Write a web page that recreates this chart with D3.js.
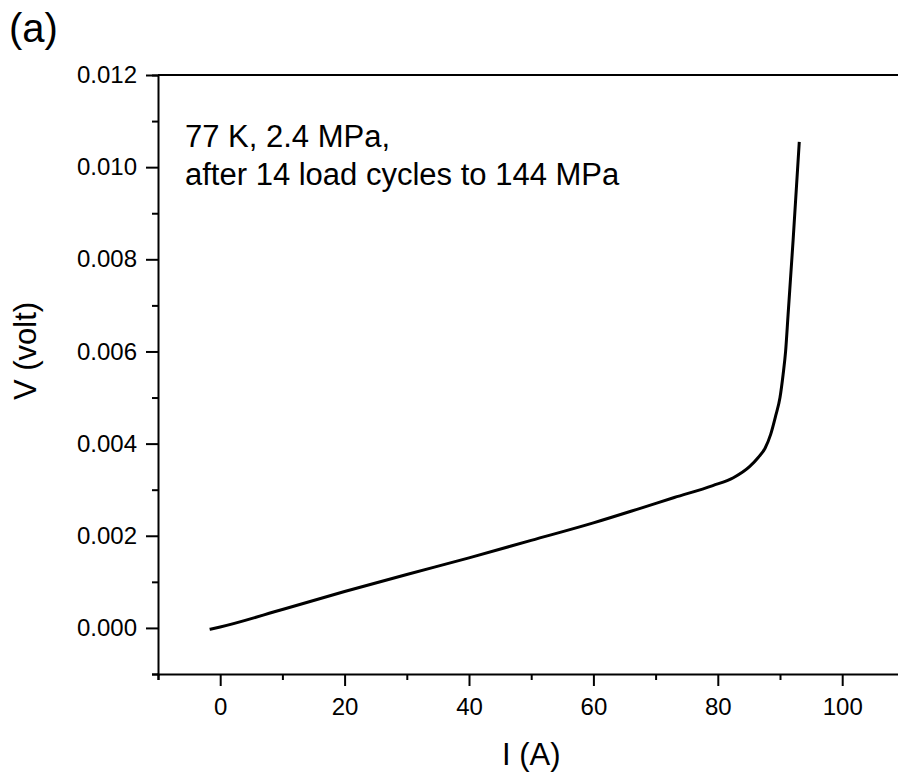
<!DOCTYPE html>
<html>
<head>
<meta charset="utf-8">
<script src="https://cdn.jsdelivr.net/npm/d3@7"></script>
<style>
	body { margin: 0; background: #fff; }
	svg { display: block; font-family: "Liberation Sans", Arial, sans-serif; }
</style>
</head>
<body>
<div id="graph"></div>
<script>
	var current = [-1.7, 0, 10, 20, 30, 40, 50, 60, 67.4, 73, 79.2, 82.5, 85.1, 86.5, 87.6, 88.5, 89.3, 90.0, 90.5, 90.9, 91.3, 92.1, 93.1];
	var voltage = [-0.00003, 0.00002, 0.0004, 0.00079, 0.00116, 0.00152, 0.0019, 0.00228, 0.00259, 0.00283, 0.00309, 0.00326, 0.0035, 0.0037, 0.0039, 0.0042, 0.0046, 0.005, 0.0055, 0.006, 0.0068, 0.0084, 0.01055];

	var xMajor = [0, 20, 40, 60, 80, 100],
		xMinor = [-10, 10, 30, 50, 70, 90, 110],
		yMajor = [0, 0.002, 0.004, 0.006, 0.008, 0.010, 0.012],
		yMinor = [-0.001, 0.001, 0.003, 0.005, 0.007, 0.009, 0.011];

	var noteLines = ['77 K, 2.4 MPa,', 'after 14 load cycles to 144 MPa'];

	(function () {
		'use strict';

		var width = 898, height = 777;
		var plotLeft = 158, plotRight = 904.4, plotTop = 75, plotBottom = 674;

		var svg = d3.select('#graph')
			.append('svg')
			.attr('width', width)
			.attr('height', height);

		var x = d3.scaleLinear().domain([-10, 110]).range([plotLeft, plotRight]);
		var y = d3.scaleLinear().domain([-0.001, 0.012]).range([plotBottom, plotTop]);

		function styleAxis(g) {
			g.selectAll('path').attr('stroke', '#000').attr('stroke-width', 2);
			g.selectAll('line').attr('stroke', '#000').attr('stroke-width', 2);
			g.selectAll('text').attr('fill', '#000').style('font-size', '24px')
				.style('font-family', '"Liberation Sans", Arial, sans-serif');
		}

		// bottom axis
		svg.append('g')
			.attr('transform', 'translate(0,' + plotBottom + ')')
			.call(d3.axisBottom(x).tickValues(xMinor).tickSize(6).tickFormat(''))
			.call(styleAxis);
		svg.append('g')
			.attr('transform', 'translate(0,' + plotBottom + ')')
			.call(d3.axisBottom(x).tickValues(xMajor).tickSize(12).tickPadding(12).tickFormat(d3.format('d')))
			.call(styleAxis)
			.select('.domain').remove();

		// left axis
		svg.append('g')
			.attr('transform', 'translate(' + plotLeft + ',0)')
			.call(d3.axisLeft(y).tickValues(yMinor).tickSize(6).tickFormat(''))
			.call(styleAxis);
		svg.append('g')
			.attr('transform', 'translate(' + plotLeft + ',0)')
			.call(d3.axisLeft(y).tickValues(yMajor).tickSize(12).tickPadding(9).tickFormat(d3.format('.3f')))
			.call(styleAxis)
			.select('.domain').remove();

		// top and right frame
		svg.append('line')
			.attr('x1', plotLeft).attr('x2', plotRight)
			.attr('y1', plotTop).attr('y2', plotTop)
			.attr('stroke', '#000').attr('stroke-width', 2);
		svg.append('line')
			.attr('x1', plotRight).attr('x2', plotRight)
			.attr('y1', plotTop).attr('y2', plotBottom)
			.attr('stroke', '#000').attr('stroke-width', 2);

		// curve
		var points = current.map(function (d, i) { return [d, voltage[i]]; });
		svg.append('path')
			.datum(points)
			.attr('fill', 'none')
			.attr('stroke', '#000')
			.attr('stroke-width', 3)
			.attr('d', d3.line()
				.curve(d3.curveMonotoneX)
				.x(function (d) { return x(d[0]); })
				.y(function (d) { return y(d[1]); }));

		// labels
		svg.append('text')
			.attr('x', (plotLeft + plotRight) / 2)
			.attr('y', 765)
			.attr('text-anchor', 'middle')
			.style('font-size', '31px')
			.text('I (A)');

		svg.append('text')
			.attr('transform', 'translate(36,351) rotate(-90)')
			.attr('text-anchor', 'middle')
			.style('font-size', '31px')
			.text('V (volt)');

		svg.append('text')
			.attr('x', 9)
			.attr('y', 42)
			.style('font-size', '40px')
			.text('(a)');

		svg.selectAll('.note')
			.data(noteLines)
			.enter().append('text')
			.attr('class', 'note')
			.attr('x', 185)
			.attr('y', function (d, i) { return 146.5 + i * 38.5; })
			.style('font-size', '31px')
			.text(function (d) { return d; });
	})();
</script>
</body>
</html>
